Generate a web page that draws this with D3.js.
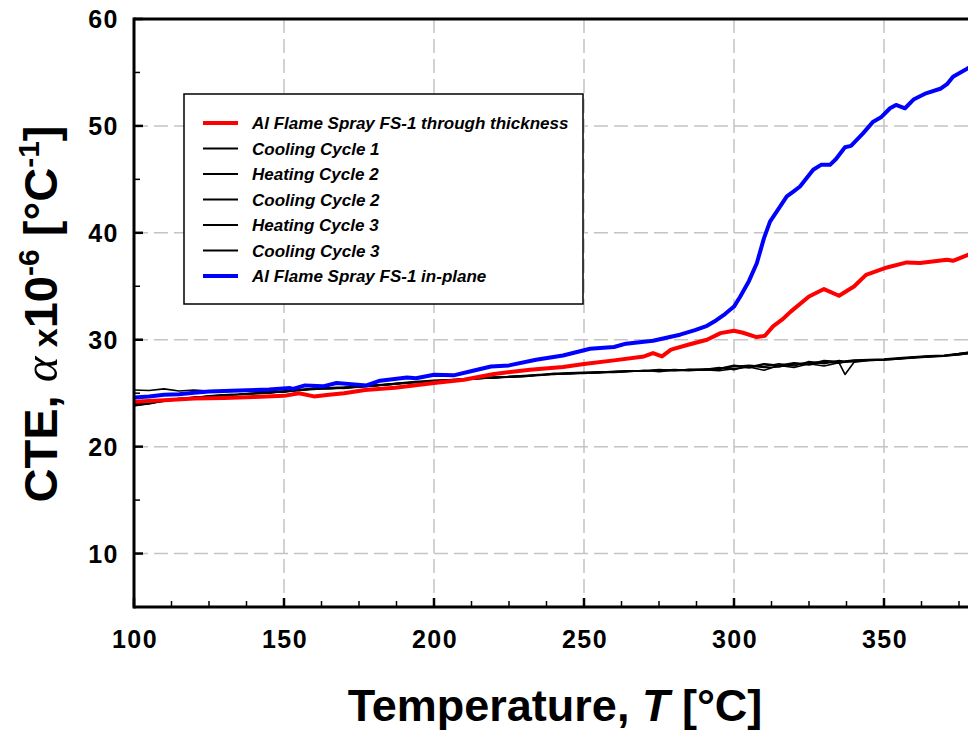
<!DOCTYPE html>
<html>
<head>
<meta charset="utf-8">
<script src="https://cdn.jsdelivr.net/npm/d3@7"></script>
<style>
  body { margin: 0; background: #fff; }
  svg text { font-family: "Liberation Sans", Arial, sans-serif; font-weight: bold; }
</style>
</head>
<body>
<svg id="chart" width="968" height="732"></svg>
<script>
// ---- data ----
// shared temperature grid for the five thermal cycle curves
const cycleTemps = [100,105,110,115,120,125,130,135,140,145,150,155,160,165,170,175,180,185,190,195,
  200,205,210,215,220,225,230,235,240,245,250,255,260,265,270,275,280,285,290,295,
  300,305,310,315,320,325,330,335,337,340,345,350,355,360,365,370,375,380];

const coolingCycle1 = [25.3,25.25,25.4,25.2,25.3,25.2,25.2,25.2,25.15,25.1,25.2,25.35,25.45,25.5,25.55,25.65,25.75,25.85,26.0,26.1,
  26.2,26.25,26.35,26.4,26.5,26.55,26.65,26.75,26.8,26.9,26.95,26.95,27.05,27.1,27.1,27.2,27.15,27.2,27.25,27.3,
  27.6,27.45,27.75,27.6,27.85,27.7,28.05,27.95,28.0,28.1,28.15,28.2,28.3,28.4,28.5,28.55,28.7,28.9];
const heatingCycle2 = [23.8,24.05,24.25,24.4,24.55,24.7,24.75,24.9,24.95,25.0,25.15,25.25,25.4,25.4,25.5,25.55,25.7,25.8,25.9,26.05,
  26.1,26.2,26.3,26.35,26.45,26.5,26.55,26.7,26.75,26.85,26.85,26.95,26.95,27.0,27.15,27.0,27.15,27.1,27.2,27.1,
  27.3,27.45,27.15,27.6,27.4,27.75,27.55,27.85,27.9,28.0,28.05,28.1,28.2,28.3,28.4,28.45,28.6,28.75];
const coolingCycle2 = [24.0,24.15,24.35,24.5,24.6,24.75,24.85,24.9,25.0,25.1,25.1,25.3,25.35,25.5,25.45,25.6,25.65,25.85,25.95,26.0,
  26.15,26.2,26.25,26.4,26.4,26.55,26.6,26.65,26.8,26.8,26.9,26.9,27.0,27.05,27.05,27.15,27.1,27.2,27.15,27.25,
  27.5,27.6,27.5,27.75,27.55,27.95,27.75,28.05,27.95,27.95,28.1,28.15,28.25,28.35,28.4,28.5,28.65,28.8];
const heatingCycle3 = [23.85,24.0,24.3,24.45,24.65,24.65,24.8,24.85,24.95,25.05,25.2,25.25,25.45,25.45,25.5,25.6,25.75,25.8,25.95,26.05,
  26.1,26.25,26.3,26.35,26.5,26.5,26.6,26.7,26.85,26.85,26.9,27.0,27.0,27.05,27.1,27.1,27.2,27.15,27.2,27.4,
  27.2,27.55,27.4,27.45,27.8,27.65,27.9,27.85,26.75,27.9,28.05,28.1,28.2,28.35,28.45,28.5,28.6,28.8];
const coolingCycle3 = [23.95,24.1,24.25,24.5,24.6,24.7,24.85,24.9,25.0,25.05,25.15,25.3,25.4,25.5,25.55,25.6,25.7,25.85,25.95,26.05,
  26.15,26.2,26.3,26.4,26.45,26.55,26.6,26.7,26.8,26.85,26.9,26.95,27.0,27.05,27.1,27.15,27.15,27.2,27.2,27.25,
  27.55,27.35,27.7,27.55,27.7,27.85,27.95,27.8,27.95,28.05,28.1,28.15,28.25,28.35,28.45,28.5,28.7,28.85];

// through thickness (red)
const thicknessTemps = [100,110,120,130,140,150,155,160,165,170,177,187,200,210,220,232,243,250,260,270,273,276,279,285,291,295.5,
  300,303,307.5,310.3,313,316,319,325,330,335,340,344,351,357.6,362,371,373,378,382];
const thicknessCTE = [24.2,24.35,24.5,24.55,24.65,24.75,25.0,24.7,24.85,25.0,25.3,25.5,25.95,26.25,26.8,27.2,27.45,27.73,28.07,28.44,28.75,28.44,29.07,29.55,30.0,30.62,
  30.84,30.65,30.25,30.37,31.25,31.87,32.65,34.05,34.74,34.11,34.98,36.07,36.76,37.23,37.17,37.48,37.38,37.94,38.1];

// in-plane (blue)
const planeTemps = [100,105,110,115,120,125,135,145,152,153,157,163,167.5,177.5,182,191,194,200,206.5,213,219,225,234,243,252,260,264,273,
  282,287,291,294,297,300,302,305,307.6,310,312,315,317.6,320,322,326.4,329,332,334,337,339,343,346.4,349,352,354,357,360,364,369,371,373,378,382];
const planeCTE = [24.6,24.7,24.85,24.9,25.05,25.15,25.25,25.35,25.48,25.4,25.73,25.64,25.95,25.73,26.17,26.47,26.4,26.73,26.67,27.1,27.5,27.6,28.13,28.53,29.16,29.32,29.63,29.9,
  30.47,30.9,31.3,31.8,32.4,33.1,34.0,35.5,37.16,39.5,41.05,42.3,43.4,43.9,44.33,45.9,46.36,46.36,46.9,48.0,48.13,49.3,50.4,50.8,51.65,51.96,51.65,52.5,53.05,53.5,53.9,54.6,55.4,55.9];

const xTicks = [100,150,200,250,300,350];
const yTicks = [10,20,30,40,50,60];
const legendNames = ["Al Flame Spray FS-1 through thickness","Cooling Cycle 1","Heating Cycle 2",
  "Cooling Cycle 2","Heating Cycle 3","Cooling Cycle 3","Al Flame Spray FS-1 in-plane"];
const legendColors = ["#ff0000","#000","#000","#000","#000","#000","#0000ff"];

// ---- layout ----
const svg = d3.select("#chart"),
      plotLeft = 134, plotRight = 1034, plotTop = 19, plotBottom = 607;

const x = d3.scaleLinear().domain([100, 400]).range([plotLeft, plotRight]);
const y = d3.scaleLinear().domain([5, 60]).range([plotBottom, plotTop]);

svg.append("defs").append("clipPath").attr("id", "plot-clip")
  .append("rect").attr("x", plotLeft).attr("y", plotTop)
  .attr("width", plotRight - plotLeft).attr("height", plotBottom - plotTop);

// dashed grid
const grid = svg.append("g").attr("stroke", "#c4c4c4").attr("stroke-width", 1.5)
  .attr("stroke-dasharray", "14,6");
grid.selectAll("line.gx").data(xTicks.slice(1)).join("line")
  .attr("class", "gx")
  .attr("x1", d => x(d)).attr("x2", d => x(d))
  .attr("y1", plotTop).attr("y2", plotBottom);
grid.selectAll("line.gy").data(yTicks.slice(0, -1)).join("line")
  .attr("class", "gy")
  .attr("x1", plotLeft).attr("x2", plotRight)
  .attr("y1", d => y(d)).attr("y2", d => y(d));

// curves
const line = d3.line().x(d => x(d[0])).y(d => y(d[1]));
const plot = svg.append("g").attr("clip-path", "url(#plot-clip)").attr("fill", "none");

[coolingCycle1, heatingCycle2, coolingCycle2, heatingCycle3, coolingCycle3].forEach(vals => {
  plot.append("path")
    .datum(d3.zip(cycleTemps, vals))
    .attr("d", line)
    .attr("stroke", "#000")
    .attr("stroke-width", 1.6)
    .attr("stroke-linejoin", "round");
});

plot.append("path")
  .datum(d3.zip(thicknessTemps, thicknessCTE))
  .attr("d", line)
  .attr("stroke", "#ff0000")
  .attr("stroke-width", 4)
  .attr("stroke-linejoin", "round");

plot.append("path")
  .datum(d3.zip(planeTemps, planeCTE))
  .attr("d", line)
  .attr("stroke", "#0000ff")
  .attr("stroke-width", 4)
  .attr("stroke-linejoin", "round");

// legend
const legend = svg.append("g");
legend.append("rect")
  .attr("x", 184).attr("y", 94).attr("width", 399).attr("height", 210)
  .attr("fill", "#fff").attr("stroke", "#000").attr("stroke-width", 1.5);

legendNames.forEach((name, i) => {
  const cy = 123 + i * 25.5;
  legend.append("line")
    .attr("x1", 203).attr("x2", 238).attr("y1", cy).attr("y2", cy)
    .attr("stroke", legendColors[i])
    .attr("stroke-width", legendColors[i] === "#000" ? 2 : 4);
  legend.append("text")
    .attr("x", 252).attr("y", cy + 6)
    .attr("font-size", 17).attr("font-style", "italic")
    .text(name);
});

// axes: inward ticks, thick frame
const axes = svg.append("g").attr("stroke", "#000");
axes.append("line").attr("x1", plotLeft).attr("x2", 968).attr("y1", plotTop).attr("y2", plotTop).attr("stroke-width", 3);
axes.append("line").attr("x1", plotLeft).attr("x2", 968).attr("y1", plotBottom).attr("y2", plotBottom).attr("stroke-width", 3);
axes.append("line").attr("x1", plotLeft).attr("x2", plotLeft).attr("y1", plotTop - 1.5).attr("y2", plotBottom + 1.5).attr("stroke-width", 3);

const xMinor = d3.range(100, 401, 12.5);
axes.selectAll("line.xt").data(xMinor).join("line")
  .attr("class", "xt")
  .attr("x1", d => x(d)).attr("x2", d => x(d))
  .attr("y1", plotBottom).attr("y2", d => plotBottom - (d % 50 === 0 ? 9 : 6))
  .attr("stroke-width", d => d % 50 === 0 ? 2.5 : 1.5);

const yMinor = d3.range(5, 61, 5);
axes.selectAll("line.yt").data(yMinor).join("line")
  .attr("class", "yt")
  .attr("x1", plotLeft).attr("x2", d => plotLeft + (d % 10 === 0 ? 9 : 6))
  .attr("y1", d => y(d)).attr("y2", d => y(d))
  .attr("stroke-width", d => d % 10 === 0 ? 2.5 : 1.5);

// tick labels
svg.selectAll("text.xl").data(xTicks).join("text")
  .attr("class", "xl")
  .attr("x", d => x(d) + 1).attr("y", 648)
  .attr("text-anchor", "middle")
  .attr("font-size", 25)
  .attr("letter-spacing", 1.5)
  .text(d => d);

svg.selectAll("text.yl").data(yTicks).join("text")
  .attr("class", "yl")
  .attr("x", 119).attr("y", d => y(d) + 9)
  .attr("text-anchor", "end")
  .attr("font-size", 25)
  .attr("letter-spacing", 1.5)
  .text(d => d);

// axis titles
const xTitle = svg.append("text")
  .attr("x", 555).attr("y", 721)
  .attr("text-anchor", "middle")
  .attr("font-size", 45);
xTitle.append("tspan").text("Temperature, ");
xTitle.append("tspan").attr("font-style", "italic").text("T");
xTitle.append("tspan").text(" [°C]");

const yTitle = svg.append("text")
  .attr("transform", "translate(57,314) rotate(-90)")
  .attr("text-anchor", "middle")
  .attr("font-size", 47);
yTitle.append("tspan").text("CTE, ");
yTitle.append("tspan")
  .style("font-family", "'Liberation Serif', 'DejaVu Serif', serif")
  .style("font-style", "italic").style("font-weight", "normal")
  .attr("font-size", 49).text("α");
yTitle.append("tspan").attr("font-size", 34).text(" x");
yTitle.append("tspan").text("10");
yTitle.append("tspan").attr("font-size", 30).attr("dy", -18).text("-6");
yTitle.append("tspan").attr("dy", 18).text(" [°C");
yTitle.append("tspan").attr("font-size", 30).attr("dy", -18).text("-1");
yTitle.append("tspan").attr("dy", 18).text("]");
</script>
</body>
</html>
